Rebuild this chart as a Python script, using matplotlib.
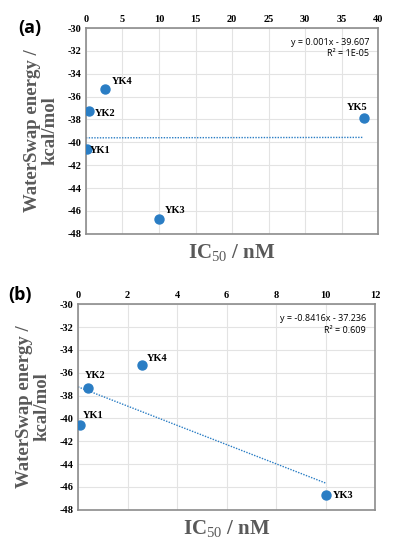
import matplotlib.pyplot as plt

# panel (a): all compounds
names_a = ["YK1", "YK2", "YK3", "YK4", "YK5"]
ic50_a = [0.1, 0.4, 10.0, 2.6, 38.0]
energy_a = [-40.6, -37.3, -46.7, -35.3, -37.9]
fit_a = (0.001, -39.607)
eq_a = "y = 0.001x - 39.607\nR² = 1E-05"

# panel (b): without YK5
names_b = ["YK1", "YK2", "YK3", "YK4"]
ic50_b = [0.1, 0.4, 10.0, 2.6]
energy_b = [-40.6, -37.3, -46.7, -35.3]
fit_b = (-0.8416, -37.236)
eq_b = "y = -0.8416x - 37.236\nR² = 0.609"

dot_color = "#2a7dc4"
serif = "Liberation Serif"
label_gray = "#595959"


def draw_panel(ax, names, xs, ys, fit, eq, xmax, xstep, offsets):
    ax.scatter(xs, ys, s=42, color=dot_color, zorder=3)
    slope, icpt = fit
    x0, x1 = 0, max(xs)
    ax.plot([x0, x1], [slope * x0 + icpt, slope * x1 + icpt],
            linestyle=(0, (1, 1)), color=dot_color, lw=1.0, zorder=2)
    for n, x, y, (dx, dy) in zip(names, xs, ys, offsets):
        ax.annotate(n, (x, y), xytext=(dx, dy), textcoords="offset points",
                    fontsize=7.5, fontweight="bold", family=serif)
    ax.set_xlim(0, xmax)
    ax.set_ylim(-48, -30)
    ax.set_xticks(range(0, xmax + 1, xstep))
    ax.set_yticks(range(-48, -29, 2))
    ax.xaxis.tick_top()
    ax.tick_params(length=0, labelsize=7.5, pad=3)
    for lbl in ax.get_xticklabels() + ax.get_yticklabels():
        lbl.set_family(serif)
        lbl.set_fontweight("bold")
    ax.grid(color="#e3e3e3", lw=0.8)
    ax.set_axisbelow(True)
    for sp in ax.spines.values():
        sp.set_color("#8c8c8c")
        sp.set_linewidth(1.2)
    ax.text(0.97, 0.95, eq, transform=ax.transAxes, ha="right", va="top",
            fontsize=6.5, family="Open Sans", linespacing=1.3)
    ax.set_xlabel("IC$_{50}$ / nM", fontsize=15, fontweight="bold",
                  family=serif, color=label_gray, labelpad=6)
    ax.set_ylabel("WaterSwap energy /\nkcal/mol", fontsize=13.5,
                  fontweight="bold", family=serif, color=label_gray,
                  linespacing=1.0, labelpad=7)


plt.rcParams["mathtext.fontset"] = "custom"
plt.rcParams["mathtext.rm"] = serif
plt.rcParams["mathtext.it"] = serif
plt.rcParams["axes.unicode_minus"] = False

fig = plt.figure(figsize=(3.96, 5.5), dpi=100)
ax_a = fig.add_axes([0.217, 0.575, 0.738, 0.374])
ax_b = fig.add_axes([0.197, 0.073, 0.750, 0.374])

draw_panel(ax_a, names_a, ic50_a, energy_a, fit_a, eq_a, 40, 5,
           [(2, -3), (4, -3), (4, 4), (5, 3), (-12, 6)])
draw_panel(ax_b, names_b, ic50_b, energy_b, fit_b, eq_b, 12, 2,
           [(2, 5), (-2, 7), (5, -2), (3, 3)])

fig.text(0.045, 0.94, "(a)", fontsize=13, fontweight="bold", family="Open Sans")
fig.text(0.02, 0.455, "(b)", fontsize=13, fontweight="bold", family="Open Sans")

fig.savefig("out.png", dpi=100)
